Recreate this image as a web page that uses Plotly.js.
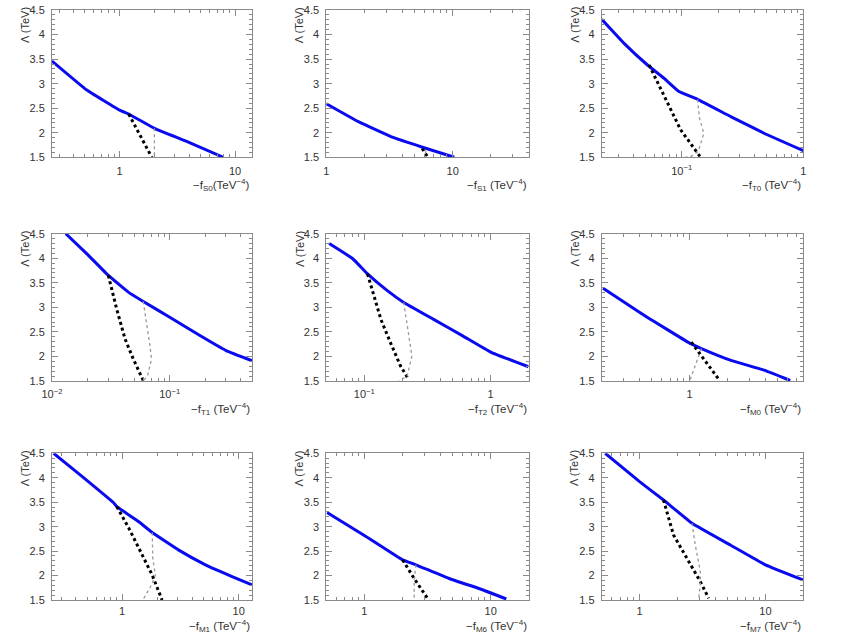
<!DOCTYPE html>
<html><head><meta charset="utf-8">
<script src="https://cdn.plot.ly/plotly-3.0.1.min.js"></script>
<style>html,body{margin:0;padding:0;background:#fff}#c{width:847px;height:635px}</style>
</head><body><div id="c"></div>
<script>
// ---------- data ----------
const panelNames = ["S0","S1","T0","T1","T2","M0","M1","M6","M7"];

const s0_blueX = [0.26, 0.52, 1.0, 1.2, 2.0, 3.85, 7.9];
const s0_blueY = [3.46, 2.87, 2.46, 2.38, 2.09, 1.82, 1.5];
const s0_blackX = [1.2, 1.9];
const s0_blackY = [2.38, 1.5];
const s0_grayX = [2.0, 2.0];
const s0_grayY = [2.09, 1.5];

const s1_blueX = [1.0, 1.81, 3.33, 5.77, 10.3];
const s1_blueY = [2.59, 2.22, 1.91, 1.705, 1.5];
const s1_blackX = [5.74, 6.3];
const s1_blackY = [1.68, 1.52];
const s1_grayX = [6.1, 6.1];
const s1_grayY = [1.64, 1.5];

const t0_blueX = [0.022, 0.0336, 0.0523, 0.0716, 0.095, 0.135, 0.253, 0.475, 1.0];
const t0_blueY = [4.31, 3.82, 3.38, 3.11, 2.84, 2.68, 2.33, 1.99, 1.635];
const t0_blackX = [0.054, 0.072, 0.098, 0.143];
const t0_blackY = [3.38, 2.73, 2.06, 1.5];
const t0_grayX = [0.135, 0.14, 0.152, 0.137, 0.12, 0.107];
const t0_grayY = [2.68, 2.3, 1.99, 1.62, 1.52, 1.5];

const t1_blueX = [0.0131, 0.0198, 0.0301, 0.0445, 0.0596, 0.1, 0.179, 0.301, 0.506];
const t1_blueY = [4.5, 4.09, 3.65, 3.31, 3.12, 2.80, 2.43, 2.12, 1.91];
const t1_blackX = [0.0301, 0.0354, 0.0417, 0.049, 0.0596];
const t1_blackY = [3.65, 2.97, 2.36, 1.95, 1.51];
const t1_grayX = [0.0596, 0.0635, 0.0678, 0.07, 0.065, 0.0596];
const t1_grayY = [3.12, 2.70, 2.23, 1.95, 1.615, 1.5];

const t2_blueX = [0.0527, 0.081, 0.106, 0.152, 0.205, 0.351, 0.601, 1.0, 1.99];
const t2_blueY = [4.30, 3.99, 3.68, 3.34, 3.10, 2.76, 2.42, 2.09, 1.79];
const t2_blackX = [0.106, 0.1197, 0.135, 0.161, 0.193, 0.224];
const t2_blackY = [3.68, 3.24, 2.76, 2.28, 1.81, 1.535];
const t2_grayX = [0.205, 0.22, 0.238, 0.218, 0.187];
const t2_grayY = [3.10, 2.56, 2.01, 1.60, 1.5];

const m0_blueX = [0.205, 0.416, 1.0, 1.24, 2.13, 3.9, 6.3];
const m0_blueY = [3.39, 2.87, 2.27, 2.16, 1.92, 1.72, 1.51];
const m0_blackX = [1.03, 1.31, 1.72];
const m0_blackY = [2.29, 1.92, 1.52];
const m0_grayX = [1.24, 1.13, 1.0];
const m0_grayY = [2.16, 1.86, 1.5];

const m1_blueX = [0.258, 0.436, 0.844, 0.9, 1.39, 1.81, 3.06, 5.18, 8.77, 13.0];
const m1_blueY = [4.5, 4.06, 3.49, 3.41, 3.10, 2.88, 2.52, 2.22, 1.98, 1.81];
const m1_blackX = [0.9, 1.14, 1.39, 1.81, 2.20];
const m1_blackY = [3.41, 2.97, 2.56, 2.01, 1.5];
const m1_grayX = [1.81, 1.83, 1.93, 1.75, 1.53];
const m1_grayY = [2.88, 2.35, 2.01, 1.77, 1.53];

const m6_blueX = [0.507, 1.03, 2.01, 2.56, 4.69, 8.6, 13.3];
const m6_blueY = [3.29, 2.80, 2.32, 2.22, 1.94, 1.71, 1.52];
const m6_blackX = [2.01, 2.48, 3.16];
const m6_blackY = [2.32, 1.94, 1.535];
const m6_grayX = [2.56, 2.48, 2.48];
const m6_grayY = [2.22, 1.88, 1.5];

const m7_blueX = [0.533, 1.0, 1.55, 2.61, 5.26, 10, 19.9];
const m7_blueY = [4.5, 3.92, 3.545, 3.07, 2.625, 2.22, 1.91];
const m7_blackX = [1.55, 1.86, 2.38, 3.04, 3.54];
const m7_blackY = [3.545, 2.83, 2.35, 1.875, 1.535];
const m7_grayX = [2.61, 2.77, 3.04, 3.04, 2.95];
const m7_grayY = [3.07, 2.625, 2.08, 1.81, 1.53];

// x ranges (data units)
const xRanges = [[0.26,14],[1,40],[0.022,1],[0.01,0.5],[0.05,2],[0.2,8],[0.25,13],[0.5,20],[0.5,20]];
// x tick labels
const xTickVals = [[1,10],[1,10],[0.1,1],[0.01,0.1],[0.1,1],[1],[1,10],[1,10],[1,10]];
const xTickText = [["1","10"],["1","10"],["10<sup>−1</sup>","1"],["10<sup>−2</sup>","10<sup>−1</sup>"],["10<sup>−1</sup>","1"],["1"],["1","10"],["1","10"],["1","10"]];
const yTickVals = [1.5,2,2.5,3,3.5,4,4.5];
const yTickText = ["1.5","2","2.5","3","3.5","4","4.5"];
const xTitles = [
 "−f<sub>S0</sub>(TeV<sup>−4</sup>)","−f<sub>S1</sub> (TeV<sup>−4</sup>)","−f<sub>T0</sub> (TeV<sup>−4</sup>)",
 "−f<sub>T1</sub> (TeV<sup>−4</sup>)","−f<sub>T2</sub> (TeV<sup>−4</sup>)","−f<sub>M0</sub> (TeV<sup>−4</sup>)",
 "−f<sub>M1</sub> (TeV<sup>−4</sup>)","−f<sub>M6</sub> (TeV<sup>−4</sup>)","−f<sub>M7</sub> (TeV<sup>−4</sup>)"];
const yTitle = "Λ (TeV)";

const series = [
 [s0_blueX,s0_blueY,s0_blackX,s0_blackY,s0_grayX,s0_grayY],
 [s1_blueX,s1_blueY,s1_blackX,s1_blackY,s1_grayX,s1_grayY],
 [t0_blueX,t0_blueY,t0_blackX,t0_blackY,t0_grayX,t0_grayY],
 [t1_blueX,t1_blueY,t1_blackX,t1_blackY,t1_grayX,t1_grayY],
 [t2_blueX,t2_blueY,t2_blackX,t2_blackY,t2_grayX,t2_grayY],
 [m0_blueX,m0_blueY,m0_blackX,m0_blackY,m0_grayX,m0_grayY],
 [m1_blueX,m1_blueY,m1_blackX,m1_blackY,m1_grayX,m1_grayY],
 [m6_blueX,m6_blueY,m6_blackX,m6_blackY,m6_grayX,m6_grayY],
 [m7_blueX,m7_blueY,m7_blackX,m7_blackY,m7_grayX,m7_grayY]
];

// ---------- layout geometry (pixels) ----------
const W = 847, H = 635;
const colPx = [[52,252],[326.3,528.7],[601.7,803.3]];
const rowPx = [[10,157.3],[233.7,381],[453.3,600]];
const titleOff = [28, 28, 25.5];
const labStand = [3, 3, 1];
const FONT = "Liberation Sans, Arial, Helvetica, sans-serif";
const AX = "#8a8a8a";

function minorLog(r){
  const out=[]; const lo=Math.floor(Math.log10(r[0])), hi=Math.ceil(Math.log10(r[1]));
  for(let e=lo;e<=hi;e++) for(let k=2;k<=9;k++){const v=k*Math.pow(10,e); if(v>=r[0]&&v<=r[1]) out.push(v);}
  return out;
}

const data=[]; const layout={width:W,height:H,margin:{l:0,r:0,t:0,b:0},paper_bgcolor:"#fff",plot_bgcolor:"#fff",showlegend:false,annotations:[]};

for(let i=0;i<9;i++){
  const r=Math.floor(i/3), c=i%3, n=i+1;
  const xa="x"+(n===1?"":n), ya="y"+(n===1?"":n);
  const s=series[i];
  data.push({type:"scatter",mode:"lines",x:s[0],y:s[1],xaxis:xa,yaxis:ya,line:{color:"#0a0af0",width:3,shape:"spline",smoothing:0.3},hoverinfo:"skip"});
  data.push({type:"scatter",mode:"lines",x:s[2],y:s[3],xaxis:xa,yaxis:ya,line:{color:"#000",width:3,dash:"dot"},hoverinfo:"skip"});
  data.push({type:"scatter",mode:"lines",x:s[4],y:s[5],xaxis:xa,yaxis:ya,line:{color:"#999",width:1.3,dash:"dot"},hoverinfo:"skip"});
  const x0=colPx[c][0]/W, x1=colPx[c][1]/W, y0=1-rowPx[r][1]/H, y1=1-rowPx[r][0]/H;
  const key = n===1?"":n;
  layout["xaxis"+key]={type:"log",domain:[x0,x1],anchor:ya,range:[Math.log10(xRanges[i][0]),Math.log10(xRanges[i][1])],
    showline:true,linecolor:AX,linewidth:1,mirror:"ticks",ticks:"inside",ticklen:6,tickcolor:AX,tickwidth:1,
    tickmode:"array",tickvals:xTickVals[i],ticktext:xTickText[i],showgrid:false,zeroline:false,
    tickfont:{family:FONT,size:11,color:"#333"},ticklabelstandoff:labStand[r],
    minor:{tickmode:"array",tickvals:minorLog(xRanges[i]),ticks:"inside",ticklen:3,tickcolor:AX,showgrid:false}};
  layout["yaxis"+key]={domain:[y0,y1],anchor:xa,range:[1.5,4.5],
    showline:true,linecolor:AX,linewidth:1,mirror:"ticks",ticks:"inside",ticklen:6,tickcolor:AX,tickwidth:1,
    tickmode:"array",tickvals:yTickVals,ticktext:yTickText,showgrid:false,zeroline:false,
    tickfont:{family:FONT,size:11,color:"#333"},ticklabelstandoff:4,
    minor:{dtick:0.1,ticks:"inside",ticklen:3,tickcolor:AX,showgrid:false}};
  layout.annotations.push({xref:"paper",yref:"paper",x:(colPx[c][0]-27)/W,y:1-(rowPx[r][0]-5)/H,xanchor:"center",yanchor:"top",
    textangle:-90,text:yTitle,showarrow:false,font:{family:FONT,size:11,color:"#333"}});
  layout.annotations.push({xref:"paper",yref:"paper",x:colPx[c][1]/W,y:1-(rowPx[r][1]+titleOff[r])/H,xanchor:"right",yanchor:"middle",
    text:xTitles[i],showarrow:false,font:{family:FONT,size:11.5,color:"#333"}});
}
Plotly.newPlot("c",data,layout,{staticPlot:true});
</script></body></html>
